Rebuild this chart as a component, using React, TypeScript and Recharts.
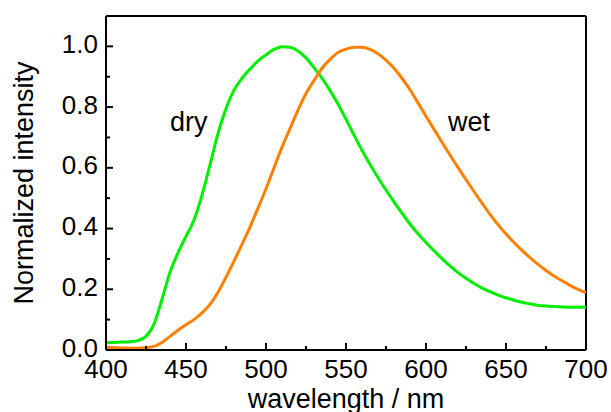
import React from "react";
import { LineChart, Line, XAxis, YAxis, ReferenceLine } from "recharts";

const wavelengths = [
  400, 405, 410, 415, 420, 425, 430, 435, 440, 445, 450, 455, 460, 465, 470, 475, 480, 485, 490, 495,
  500, 505, 510, 515, 520, 525, 530, 535, 540, 545, 550, 555, 560, 565, 570, 575, 580, 585, 590, 595,
  600, 605, 610, 615, 620, 625, 630, 635, 640, 645, 650, 655, 660, 665, 670, 675, 680, 685, 690, 695, 700,
];

const dry = [
  0.024, 0.025, 0.026, 0.027, 0.031, 0.045, 0.085, 0.167, 0.256, 0.32, 0.374, 0.428, 0.51, 0.61, 0.713, 0.795, 0.856, 0.895, 0.925, 0.952,
  0.972, 0.99, 0.999, 0.997, 0.985, 0.962, 0.93, 0.895, 0.855, 0.81, 0.76, 0.708, 0.658, 0.612, 0.568, 0.527, 0.488, 0.451, 0.415, 0.383,
  0.354, 0.327, 0.301, 0.277, 0.255, 0.236, 0.219, 0.204, 0.192, 0.181, 0.172, 0.164, 0.157, 0.152, 0.147, 0.145, 0.143, 0.142, 0.141, 0.141, 0.142,
];

const wet = [
  0.009, 0.008, 0.007, 0.006, 0.006, 0.008, 0.012, 0.025, 0.045, 0.065, 0.083, 0.1, 0.122, 0.15, 0.19, 0.24, 0.293, 0.348, 0.405, 0.467,
  0.531, 0.6, 0.668, 0.729, 0.79, 0.845, 0.887, 0.928, 0.957, 0.98, 0.991, 0.997, 0.997, 0.99, 0.976, 0.955, 0.928, 0.895, 0.857, 0.814,
  0.77, 0.727, 0.684, 0.642, 0.601, 0.561, 0.522, 0.484, 0.447, 0.413, 0.382, 0.354, 0.328, 0.304, 0.282, 0.262, 0.244, 0.228, 0.213, 0.2, 0.189,
];

const xTicks = [400, 425, 450, 475, 500, 525, 550, 575, 600, 625, 650, 675, 700];
const yTicks = [0, 0.1, 0.2, 0.3, 0.4, 0.5, 0.6, 0.7, 0.8, 0.9, 1.0];

const data = wavelengths.map((wl, i) => ({ wl, dry: dry[i], wet: wet[i] }));

const FONT = "'Liberation Sans', Arial, Helvetica, sans-serif";

const XTick = (props: any) => {
  const { x, y, payload } = props;
  const v = payload.value;
  const major = v % 50 === 0;
  return (
    <g>
      <line x1={x} y1={y} x2={x} y2={y - (major ? 7 : 4)} stroke="#000" strokeWidth={2} />
      {major && (
        <text x={x} y={y + 28} textAnchor="middle" fontSize={26} fontFamily={FONT} fill="#000">
          {v}
        </text>
      )}
    </g>
  );
};

const YTick = (props: any) => {
  const { x, y, payload } = props;
  const v = payload.value;
  const major = Math.round(v * 10) % 2 === 0;
  return (
    <g>
      <line x1={x} y1={y} x2={x + (major ? 7 : 4)} y2={y} stroke="#000" strokeWidth={2} />
      {major && (
        <text x={x - 8} y={y + 6.5} textAnchor="end" fontSize={26} fontFamily={FONT} fill="#000">
          {v.toFixed(1)}
        </text>
      )}
    </g>
  );
};

export default function App() {
  return (
    <div style={{ position: "absolute", left: 0, top: 0, width: 611, height: 412, background: "#fff" }}>
      <LineChart width={611} height={412} data={data} margin={{ top: 16, right: 25, bottom: 0, left: 0 }}>
        <XAxis
          dataKey="wl"
          type="number"
          domain={[400, 700]}
          ticks={xTicks}
          interval={0}
          tick={<XTick />}
          tickLine={false}
          tickSize={0}
          tickMargin={0}
          axisLine={{ stroke: "#000", strokeWidth: 2 }}
          height={62}
        />
        <YAxis
          type="number"
          domain={[0, 1.1]}
          ticks={yTicks}
          interval={0}
          tick={<YTick />}
          tickLine={false}
          tickSize={0}
          tickMargin={0}
          axisLine={{ stroke: "#000", strokeWidth: 2 }}
          width={106}
          allowDataOverflow
        />
        <ReferenceLine x={700} stroke="#000" strokeWidth={2} />
        <ReferenceLine y={1.1} stroke="#000" strokeWidth={2} />
        <Line type="monotone" dataKey="dry" stroke="#00ee00" strokeWidth={3} dot={false} isAnimationActive={false} />
        <Line type="monotone" dataKey="wet" stroke="#ff8000" strokeWidth={3} dot={false} isAnimationActive={false} />
      </LineChart>
      <svg
        width={611}
        height={412}
        style={{ position: "absolute", left: 0, top: 0, pointerEvents: "none" }}
      >
        <text x={170} y={131} fontSize={27} fontFamily={FONT} fill="#000">dry</text>
        <text x={448} y={131} fontSize={27} fontFamily={FONT} fill="#000">wet</text>
        <text x={346} y={408} textAnchor="middle" fontSize={27} fontFamily={FONT} fill="#000">
          wavelength / nm
        </text>
        <text
          x={33}
          y={183}
          textAnchor="middle"
          fontSize={27}
          fontFamily={FONT}
          fill="#000"
          transform="rotate(-90, 33, 183)"
        >
          Normalized intensity
        </text>
      </svg>
    </div>
  );
}
